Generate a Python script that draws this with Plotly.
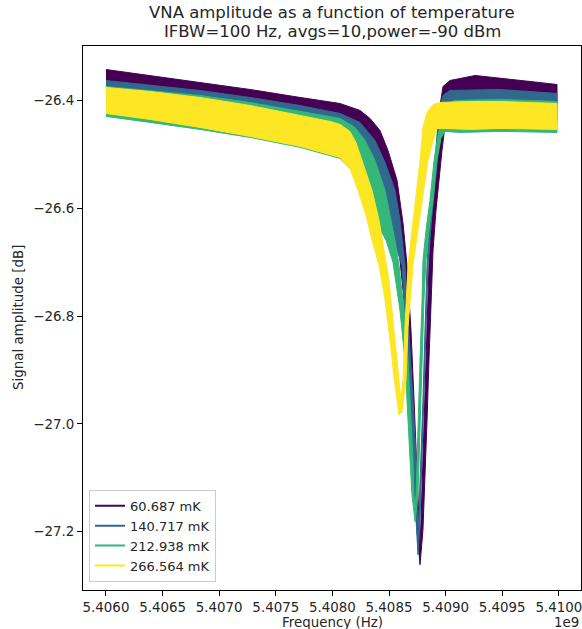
import plotly.graph_objects as go

temps = ["60.687 mK", "140.717 mK", "212.938 mK", "266.564 mK"]
colors = ["#440154", "#31688e", "#35b779", "#fde725"]

# Envelopes (noise band edges) of each measured trace, frequency in MHz, amplitude in dB
f60_up = [5406.000, 5406.389, 5406.830, 5407.272, 5407.714, 5408.067, 5408.244, 5408.332, 5408.420, 5408.491,
          5408.571, 5408.624, 5408.659, 5408.694, 5408.721, 5408.747, 5408.765, 5408.774, 5408.783, 5408.800,
          5408.818, 5408.836, 5408.853, 5408.871, 5408.889, 5408.915, 5408.933, 5408.951, 5408.977, 5409.039,
          5409.260, 5409.481, 5409.746, 5409.984]
a60_up = [-26.3426, -26.3537, -26.3667, -26.3796, -26.3944, -26.4056, -26.4185, -26.4333, -26.4556, -26.4926,
          -26.5481, -26.6278, -26.7056, -26.8259, -26.9556, -27.0852, -27.1778, -27.2241, -27.1778, -27.0667,
          -26.9556, -26.8259, -26.7056, -26.6407, -26.5852, -26.5111, -26.4556, -26.4093, -26.3741, -26.3630,
          -26.3537, -26.3593, -26.3648, -26.3704]
f60_lo = [5406.000, 5406.389, 5406.830, 5407.272, 5407.714, 5408.067, 5408.244, 5408.376, 5408.465, 5408.535,
          5408.588, 5408.633, 5408.668, 5408.694, 5408.721, 5408.747, 5408.774, 5408.800, 5408.818, 5408.836,
          5408.853, 5408.871, 5408.889, 5408.915, 5408.942, 5408.968, 5408.995, 5409.030, 5409.216, 5409.481,
          5409.984]
a60_lo = [-26.3944, -26.4056, -26.4185, -26.4315, -26.4463, -26.4593, -26.4778, -26.5111, -26.5574, -26.6130,
          -26.6778, -26.7704, -26.8815, -26.9926, -27.1037, -27.1963, -27.2611, -27.1963, -27.1037, -26.9926,
          -26.8815, -26.7704, -26.6778, -26.6037, -26.5481, -26.4926, -26.4463, -26.4222, -26.4130, -26.4111,
          -26.4185]

f140_up = [5406.000, 5406.389, 5406.830, 5407.272, 5407.714, 5408.067, 5408.244, 5408.376, 5408.465, 5408.553,
           5408.597, 5408.641, 5408.677, 5408.712, 5408.739, 5408.747, 5408.756, 5408.765, 5408.783, 5408.800,
           5408.818, 5408.836, 5408.853, 5408.880, 5408.906, 5408.924, 5408.942, 5408.977, 5409.039, 5409.481,
           5409.746, 5409.984]
a140_up = [-26.3630, -26.3722, -26.3815, -26.3944, -26.4093, -26.4241, -26.4407, -26.4741, -26.5148, -26.5667,
           -26.6222, -26.7056, -26.8259, -26.9556, -27.0667, -27.1593, -27.2111, -27.1593, -27.0667, -26.9556,
           -26.8259, -26.7056, -26.6407, -26.5852, -26.5111, -26.4556, -26.4185, -26.3907, -26.3815, -26.3796,
           -26.3833, -26.3870]
f140_lo = [5406.000, 5406.389, 5406.830, 5407.272, 5407.714, 5408.067, 5408.244, 5408.376, 5408.456, 5408.527,
           5408.571, 5408.615, 5408.650, 5408.686, 5408.712, 5408.739, 5408.756, 5408.774, 5408.792, 5408.809,
           5408.827, 5408.845, 5408.871, 5408.898, 5408.924, 5408.951, 5408.986, 5409.083, 5409.481, 5409.984]
a140_lo = [-26.4148, -26.4241, -26.4333, -26.4463, -26.4611, -26.4778, -26.5019, -26.5389, -26.5704, -26.6315,
           -26.6778, -26.7056, -26.8259, -26.9556, -27.0667, -27.1778, -27.2426, -27.1778, -27.0667, -26.9556,
           -26.8259, -26.7056, -26.6315, -26.5759, -26.5111, -26.4556, -26.4278, -26.4333, -26.4315, -26.4389]

f212_up = [5406.000, 5406.389, 5406.830, 5407.272, 5407.714, 5408.067, 5408.200, 5408.288, 5408.376, 5408.465,
           5408.553, 5408.588, 5408.633, 5408.668, 5408.694, 5408.712, 5408.721, 5408.730, 5408.739, 5408.747,
           5408.756, 5408.774, 5408.792, 5408.800, 5408.827, 5408.862, 5408.898, 5408.933, 5408.968, 5409.012,
           5409.083, 5409.481, 5409.984]
a212_up = [-26.3741, -26.3815, -26.3907, -26.4037, -26.4204, -26.4333, -26.4500, -26.4741, -26.5111, -26.5667,
           -26.6593, -26.7056, -26.7889, -26.8815, -26.9926, -27.0667, -27.1315, -27.1593, -27.1315, -27.0667,
           -26.9926, -26.8815, -26.7704, -26.6963, -26.6407, -26.5852, -26.5111, -26.4648, -26.4278, -26.4056,
           -26.4000, -26.3981, -26.4019]
f212_lo = [5406.000, 5406.389, 5406.830, 5407.272, 5407.714, 5408.067, 5408.173, 5408.261, 5408.376, 5408.474,
           5408.535, 5408.597, 5408.641, 5408.668, 5408.686, 5408.703, 5408.730, 5408.756, 5408.765, 5408.774,
           5408.792, 5408.809, 5408.827, 5408.853, 5408.889, 5408.924, 5408.959, 5408.995, 5409.127, 5409.481,
           5409.984]
a212_lo = [-26.4296, -26.4407, -26.4537, -26.4685, -26.4870, -26.5074, -26.5296, -26.5667, -26.6222, -26.6593,
           -26.7000, -26.7889, -26.8815, -26.9926, -27.0667, -27.1315, -27.1815, -27.1315, -27.0667, -26.9926,
           -26.8815, -26.7704, -26.6963, -26.6407, -26.5852, -26.5111, -26.4704, -26.4574, -26.4593, -26.4574,
           -26.4593]

f266_up = [5406.000, 5406.389, 5406.830, 5407.272, 5407.714, 5407.979, 5408.067, 5408.155, 5408.208, 5408.261,
           5408.306, 5408.350, 5408.412, 5408.456, 5408.500, 5408.535, 5408.571, 5408.597, 5408.606, 5408.624,
           5408.641, 5408.668, 5408.703, 5408.739, 5408.774, 5408.800, 5408.836, 5408.889, 5408.951, 5409.216,
           5409.481, 5409.984]
a266_up = [-26.3759, -26.3833, -26.3944, -26.4093, -26.4278, -26.4389, -26.4444, -26.4574, -26.4778, -26.5111,
           -26.5389, -26.5667, -26.6222, -26.6778, -26.7333, -26.8074, -26.8815, -26.9278, -26.9556, -26.9185,
           -26.8204, -26.7056, -26.6407, -26.5759, -26.5111, -26.4500, -26.4222, -26.4074, -26.4037, -26.4019,
           -26.4019, -26.4056]
f266_lo = [5406.000, 5406.389, 5406.830, 5407.272, 5407.714, 5408.067, 5408.155, 5408.226, 5408.297, 5408.350,
           5408.412, 5408.465, 5408.509, 5408.544, 5408.571, 5408.588, 5408.615, 5408.633, 5408.650, 5408.668,
           5408.712, 5408.756, 5408.800, 5408.845, 5408.889, 5408.924, 5408.995, 5409.216, 5409.481, 5409.984]
a266_lo = [-26.4241, -26.4352, -26.4500, -26.4667, -26.4852, -26.5056, -26.5259, -26.5667, -26.6130, -26.6593,
           -26.7056, -26.7704, -26.8444, -26.9130, -26.9556, -26.9833, -26.9778, -26.9463, -26.9185, -26.8204,
           -26.7056, -26.6407, -26.5759, -26.5111, -26.4741, -26.4519, -26.4519, -26.4537, -26.4519, -26.4537]

xtick_mhz = [5406.0, 5406.5, 5407.0, 5407.5, 5408.0, 5408.5, 5409.0, 5409.5, 5410.0]
xtick_text = ["5.4060", "5.4065", "5.4070", "5.4075", "5.4080", "5.4085", "5.4090", "5.4095", "5.4100"]
ytick_vals = [-27.2, -27.0, -26.8, -26.6, -26.4]

bands = [
    (f60_up, a60_up, f60_lo, a60_lo),
    (f140_up, a140_up, f140_lo, a140_lo),
    (f212_up, a212_up, f212_lo, a212_lo),
    (f266_up, a266_up, f266_lo, a266_lo),
]

FONT = "DejaVu Sans"
fig = go.Figure()
for (fu, au, fl, al), col in zip(bands, colors):
    xs = [v * 1e6 for v in fu] + [v * 1e6 for v in fl[::-1]]
    ys = list(au) + list(al[::-1])
    fig.add_trace(go.Scatter(x=xs, y=ys, mode="lines", fill="toself", fillcolor=col,
                             line=dict(color=col, width=1), showlegend=False, hoverinfo="skip"))

for name, col in zip(temps, colors):
    fig.add_trace(go.Scatter(x=[None], y=[None], mode="lines", name=name,
                             line=dict(color=col, width=2)))

L, R, T, B = 83, 1, 45.5, 38.7
fig.update_layout(
    width=582, height=629,
    margin=dict(l=L, r=R, t=T, b=B, pad=0),
    paper_bgcolor="white", plot_bgcolor="white",
    font=dict(family=FONT, size=13.4, color="#262626"),
    showlegend=True,
    legend=dict(x=0.012, y=0.015, xanchor="left", yanchor="bottom",
                bgcolor="rgba(255,255,255,0.8)", bordercolor="#cccccc", borderwidth=1,
                font=dict(family=FONT, size=13, color="#262626"),
                tracegroupgap=0),
    xaxis=dict(range=[5405.797e6, 5410.196e6], tickvals=[v * 1e6 for v in xtick_mhz],
               ticktext=xtick_text, showline=True, linecolor="black", linewidth=1, mirror=True,
               ticks="outside", ticklen=5, tickcolor="black", showgrid=False, zeroline=False,
               ticklabeloverflow="allow",
               tickfont=dict(family=FONT, size=13.4, color="#262626")),
    yaxis=dict(range=[-27.308, -26.299], tickvals=ytick_vals, tickformat=".1f",
               showline=True, linecolor="black", linewidth=1, mirror=True,
               ticks="outside", ticklen=5, tickcolor="black", showgrid=False, zeroline=False,
               tickfont=dict(family=FONT, size=13.4, color="#262626")),
    annotations=[
        dict(text="VNA amplitude as a function of temperature", xref="paper", yref="paper",
             x=0.5, y=(590.3 - 12) / 544.8, xanchor="center", yanchor="middle", showarrow=False,
             font=dict(family=FONT, size=16.5, color="#262626")),
        dict(text="IFBW=100 Hz, avgs=10,power=-90 dBm", xref="paper", yref="paper",
             x=0.5, y=(590.3 - 31) / 544.8, xanchor="center", yanchor="middle", showarrow=False,
             font=dict(family=FONT, size=16.5, color="#262626")),
        dict(text="Frequency (Hz)", xref="paper", yref="paper", x=0.5, y=(590.3 - 622.5) / 544.8,
             xanchor="center", yanchor="middle", showarrow=False,
             font=dict(family=FONT, size=13.4, color="#262626")),
        dict(text="1e9", xref="paper", yref="paper", x=1.0, y=(590.3 - 622.5) / 544.8,
             xanchor="right", yanchor="middle", showarrow=False,
             font=dict(family=FONT, size=13.4, color="#262626")),
        dict(text="Signal amplitude [dB]", xref="paper", yref="paper", x=(18 - 83) / 498, y=0.5,
             xanchor="center", yanchor="middle", textangle=-90, showarrow=False,
             font=dict(family=FONT, size=13.4, color="#262626")),
    ],
)

fig.write_html("out.html", config={"displayModeBar": False},
               post_script="document.body.style.margin='0px';document.body.style.padding='0px';")
